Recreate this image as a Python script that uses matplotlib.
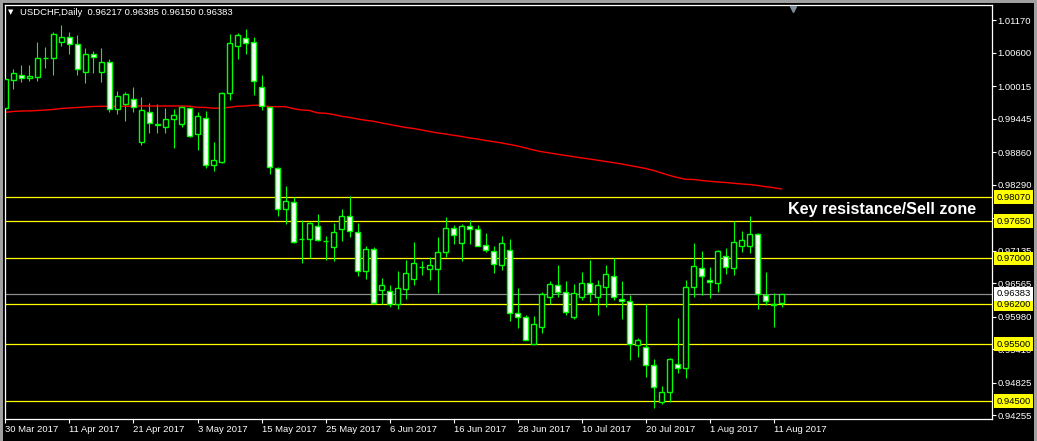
import matplotlib
matplotlib.use('Agg')
import matplotlib.pyplot as plt
import matplotlib.transforms as mtransforms
import numpy as np

# USDCHF daily candles, 30 Mar 2017 .. 14 Aug 2017 (one entry per trading day)
opens = [0.99638, 1.00118, 1.00205, 1.00153, 1.00181, 1.00500, 1.00503, 1.00793, 1.00870, 1.00748,
         1.00258, 1.00573, 1.00258, 1.00433, 0.99610, 0.99698, 0.99785, 0.99043, 0.99554, 0.99346,
         0.99306, 0.99432, 0.99344, 0.99628, 0.99173, 0.99453, 0.98632, 0.98693, 0.99890, 1.00723,
         1.00853, 1.00783, 0.99995, 0.99656, 0.98578, 0.97860, 0.97983, 0.97337, 0.97335, 0.97559,
         0.97300, 0.97206, 0.97510, 0.97740, 0.97458, 0.96772, 0.97160, 0.96439, 0.96422, 0.96198,
         0.96457, 0.96632, 0.96854, 0.96807, 0.96807, 0.97104, 0.97528, 0.97276, 0.97565, 0.97510,
         0.97232, 0.97131, 0.96877, 0.97143, 0.96040, 0.95972, 0.95508, 0.95806, 0.96331, 0.96527,
         0.96408, 0.95981, 0.96331, 0.96565, 0.96320, 0.96506, 0.96688, 0.96285, 0.96250, 0.95491,
         0.95442, 0.95130, 0.94493, 0.94658, 0.95148, 0.95074, 0.96495, 0.96828, 0.96618, 0.96565,
         0.97038, 0.96838, 0.97223, 0.97213, 0.97423, 0.96355, 0.96193, 0.96217]
highs = [1.00153, 1.00316, 1.00380, 1.00380, 1.00788, 1.00706, 1.00968, 1.01086, 1.00963, 1.00911,
         1.00683, 1.00636, 1.00678, 1.00485, 0.99931, 0.99908, 1.00006, 0.99822, 0.99717, 0.99700,
         0.99633, 0.99616, 0.99663, 0.99651, 0.99567, 0.99581, 0.99038, 0.99913, 1.00933, 1.00949,
         1.01012, 1.00870, 1.00207, 0.99668, 0.98606, 0.98268, 0.98067, 0.97673, 0.97643, 0.97778,
         0.97393, 0.97617, 0.97860, 0.98093, 0.97615, 0.97218, 0.97192, 0.96658, 0.96527, 0.96781,
         0.96973, 0.97288, 0.96956, 0.97022, 0.97379, 0.97722, 0.97586, 0.97608, 0.97673, 0.97586,
         0.97446, 0.97218, 0.97393, 0.97337, 0.96480, 0.96011, 0.95993, 0.96418, 0.96606, 0.96886,
         0.96606, 0.96550, 0.96760, 0.96973, 0.96623, 0.96886, 0.97003, 0.96606, 0.96355, 0.95613,
         0.96198, 0.95235, 0.94768, 0.95253, 0.95963, 0.96623, 0.97271, 0.97131, 0.96851, 0.97148,
         0.97178, 0.97656, 0.97481, 0.97743, 0.97451, 0.96763, 0.96390, 0.96385]
lows = [0.99481, 0.99960, 1.00083, 1.00111, 1.00111, 1.00328, 1.00211, 1.00723, 1.00573, 1.00211,
        1.00076, 1.00251, 1.00093, 0.99568, 0.99533, 0.99411, 0.99568, 0.98977, 0.99190, 0.99201,
        0.99201, 0.98938, 0.99292, 0.99131, 0.98898, 0.98583, 0.98536, 0.98674, 0.99768, 1.00494,
        1.00569, 0.99866, 0.99589, 0.98478, 0.97748, 0.97598, 0.97265, 0.96915, 0.97003, 0.97297,
        0.96973, 0.96956, 0.97311, 0.97367, 0.96693, 0.96644, 0.96198, 0.96198, 0.96142, 0.96116,
        0.96291, 0.96536, 0.96702, 0.96623, 0.96390, 0.97031, 0.97253, 0.96961, 0.97253, 0.97209,
        0.97104, 0.96751, 0.96798, 0.95911, 0.95788, 0.95564, 0.95494, 0.95701, 0.96198, 0.96331,
        0.96002, 0.95946, 0.96273, 0.96238, 0.96011, 0.96156, 0.96273, 0.95941, 0.95223, 0.95281,
        0.94931, 0.94388, 0.94448, 0.94483, 0.94990, 0.94903, 0.96331, 0.96361, 0.96313, 0.96418,
        0.96723, 0.96711, 0.97118, 0.97101, 0.96110, 0.96186, 0.95806, 0.96150]
closes = [1.00141, 1.00240, 1.00153, 1.00188, 1.00503, 1.00505, 1.00923, 1.00870, 1.00748, 1.00310,
          1.00573, 1.00520, 1.00433, 0.99610, 0.99834, 0.99875, 0.99645, 0.99598, 0.99365, 0.99342,
          0.99437, 0.99505, 0.99645, 0.99148, 0.99484, 0.98630, 0.98714, 0.99890, 1.00765, 1.00907,
          1.00776, 1.00100, 0.99659, 0.98595, 0.97866, 0.98000, 0.97283, 0.97333, 0.97615, 0.97314,
          0.97304, 0.97458, 0.97743, 0.97472, 0.96772, 0.97160, 0.96226, 0.96530, 0.96200, 0.96478,
          0.96740, 0.96917, 0.96858, 0.96880, 0.97108, 0.97528, 0.97402, 0.97565, 0.97507, 0.97223,
          0.97152, 0.96908, 0.97265, 0.96040, 0.95970, 0.95578, 0.95848, 0.96375, 0.96548, 0.96404,
          0.96054, 0.96390, 0.96565, 0.96390, 0.96530, 0.96723, 0.96331, 0.96250, 0.95494, 0.95570,
          0.95127, 0.94745, 0.94663, 0.95235, 0.95078, 0.96495, 0.96863, 0.96688, 0.96583, 0.97125,
          0.96845, 0.97283, 0.97318, 0.97423, 0.96373, 0.96250, 0.96191, 0.96383]
# red moving average
ma = [0.99558, 0.99572, 0.99581, 0.99581, 0.99589, 0.99598, 0.99607, 0.99624, 0.99633, 0.99642,
      0.99651, 0.99659, 0.99663, 0.99663, 0.99663, 0.99663, 0.99668, 0.99668, 0.99668, 0.99668,
      0.99668, 0.99668, 0.99668, 0.99663, 0.99645, 0.99642, 0.99628, 0.99633, 0.99645, 0.99663,
      0.99668, 0.99680, 0.99680, 0.99656, 0.99656, 0.99656, 0.99621, 0.99598, 0.99589, 0.99546,
      0.99540, 0.99519, 0.99488, 0.99467, 0.99441, 0.99418, 0.99400, 0.99371, 0.99344, 0.99318,
      0.99292, 0.99274, 0.99248, 0.99222, 0.99196, 0.99178, 0.99155, 0.99134, 0.99108, 0.99091,
      0.99064, 0.99043, 0.99021, 0.98994, 0.98968, 0.98933, 0.98898, 0.98868, 0.98846, 0.98823,
      0.98802, 0.98781, 0.98758, 0.98741, 0.98718, 0.98697, 0.98676, 0.98653, 0.98627, 0.98601,
      0.98574, 0.98539, 0.98496, 0.98452, 0.98417, 0.98385, 0.98382, 0.98364, 0.98350, 0.98338,
      0.98329, 0.98315, 0.98303, 0.98294, 0.98277, 0.98256, 0.98238, 0.98216]

date_labels = ['30 Mar 2017', '11 Apr 2017', '21 Apr 2017', '3 May 2017', '15 May 2017',
               '25 May 2017', '6 Jun 2017', '16 Jun 2017', '28 Jun 2017', '10 Jul 2017',
               '20 Jul 2017', '1 Aug 2017', '11 Aug 2017']
price_ticks = [1.01170, 1.00600, 1.00015, 0.99445, 0.98860, 0.98290, 0.97710,
               0.97135, 0.96565, 0.95980, 0.95410, 0.94825, 0.94255]
levels = [0.98070, 0.97650, 0.97000, 0.96200, 0.95500, 0.94500]
bid = 0.96383
header = 'USDCHF,Daily  0.96217 0.96385 0.96150 0.96383'
note = 'Key resistance/Sell zone'

W, H = 1037, 441
fig = plt.figure(figsize=(W / 100, H / 100), dpi=100)
fig.patch.set_facecolor('black')
ax = fig.add_axes([5 / W, 22 / H, 987 / W, 414 / H])
ax.set_facecolor('black')

o = np.array(opens)
c = np.array(closes)
x = np.arange(len(o))
bull = c >= o
lime = '#00FF00'

ax.vlines(x, lows, highs, color=lime, linewidth=0.8, zorder=2)
body_lo = np.minimum(o, c)
body_h = np.maximum(np.abs(c - o), 0.00003)
ax.bar(x, body_h, bottom=body_lo, width=0.55,
       color=np.where(bull, 'black', 'white'), edgecolor=lime, linewidth=1.0, zorder=3)

ax.plot(x, ma, color='#FF0000', linewidth=1.0, zorder=2.5)

for lv in levels:
    ax.axhline(lv, color='#FFFF00', linewidth=0.9, zorder=1.5)
ax.axhline(bid, color='#8C8C8C', linewidth=0.9, zorder=1.5)

ax.set_xlim(-0.06, 123.3)
ax.set_ylim(0.94190, 1.01435)

# axes styling
for sp in ax.spines.values():
    sp.set_color('white')
    sp.set_linewidth(0.9)
ax.yaxis.tick_right()
ax.set_yticks(price_ticks)
ax.set_yticklabels(['%.5f' % t for t in price_ticks])
ax.set_xticks(np.arange(0, len(o), 8))
ax.set_xticklabels(date_labels)
ax.tick_params(axis='both', colors='white', labelsize=6.8, length=2.6, width=0.8)
ax.tick_params(axis='y', pad=1.5)
ax.tick_params(axis='x', pad=1.5)
for lab in ax.get_xticklabels():
    lab.set_horizontalalignment('left')
    lab.set_family('Liberation Sans')
for lab in ax.get_yticklabels():
    lab.set_family('Liberation Sans')

# price boxes on the scale
trans = mtransforms.blended_transform_factory(ax.transAxes, ax.transData)
for lv in levels:
    ax.text(1.0045, lv, '%.5f' % lv, transform=trans, ha='left', va='center',
            fontsize=6.8, family='Liberation Sans', color='black', clip_on=False, zorder=5,
            bbox=dict(boxstyle='square,pad=0.25', facecolor='#FFFF00', edgecolor='none'))
ax.text(1.0045, bid, '%.5f' % bid, transform=trans, ha='left', va='center',
        fontsize=6.8, family='Liberation Sans', color='black', clip_on=False, zorder=5,
        bbox=dict(boxstyle='square,pad=0.25', facecolor='white', edgecolor='none'))

# annotation between the two upper levels
ax.text(97.8, (levels[0] + levels[1]) / 2, note, ha='left', va='center', color='white',
        fontsize=11.6, fontweight='bold', family='Liberation Sans', zorder=6)

# header and chart-shift marker
fig.text(8 / W, 1 - 12.5 / H, '\u25BC', color='white', fontsize=5, va='center', ha='left')
fig.text(20 / W, 1 - 12.5 / H, header, color='white', fontsize=6.8,
         family='Liberation Sans', va='center', ha='left')
ax.plot([0.7985], [0.99], marker='v', markersize=5, color='#7F8C99',
        transform=ax.transAxes, clip_on=False, zorder=6)

# window frame
fig.add_artist(plt.Rectangle((0, 1 - 3 / H), 1, 3 / H, transform=fig.transFigure,
                             facecolor='#A0A0A0', edgecolor='none'))
fig.add_artist(plt.Rectangle((0, 0), 3 / W, 1, transform=fig.transFigure,
                             facecolor='#A0A0A0', edgecolor='none'))
fig.add_artist(plt.Rectangle((1 - 3 / W, 0), 3 / W, 1, transform=fig.transFigure,
                             facecolor='#A0A0A0', edgecolor='none'))

fig.savefig('out.png', dpi=100, facecolor=fig.get_facecolor())
